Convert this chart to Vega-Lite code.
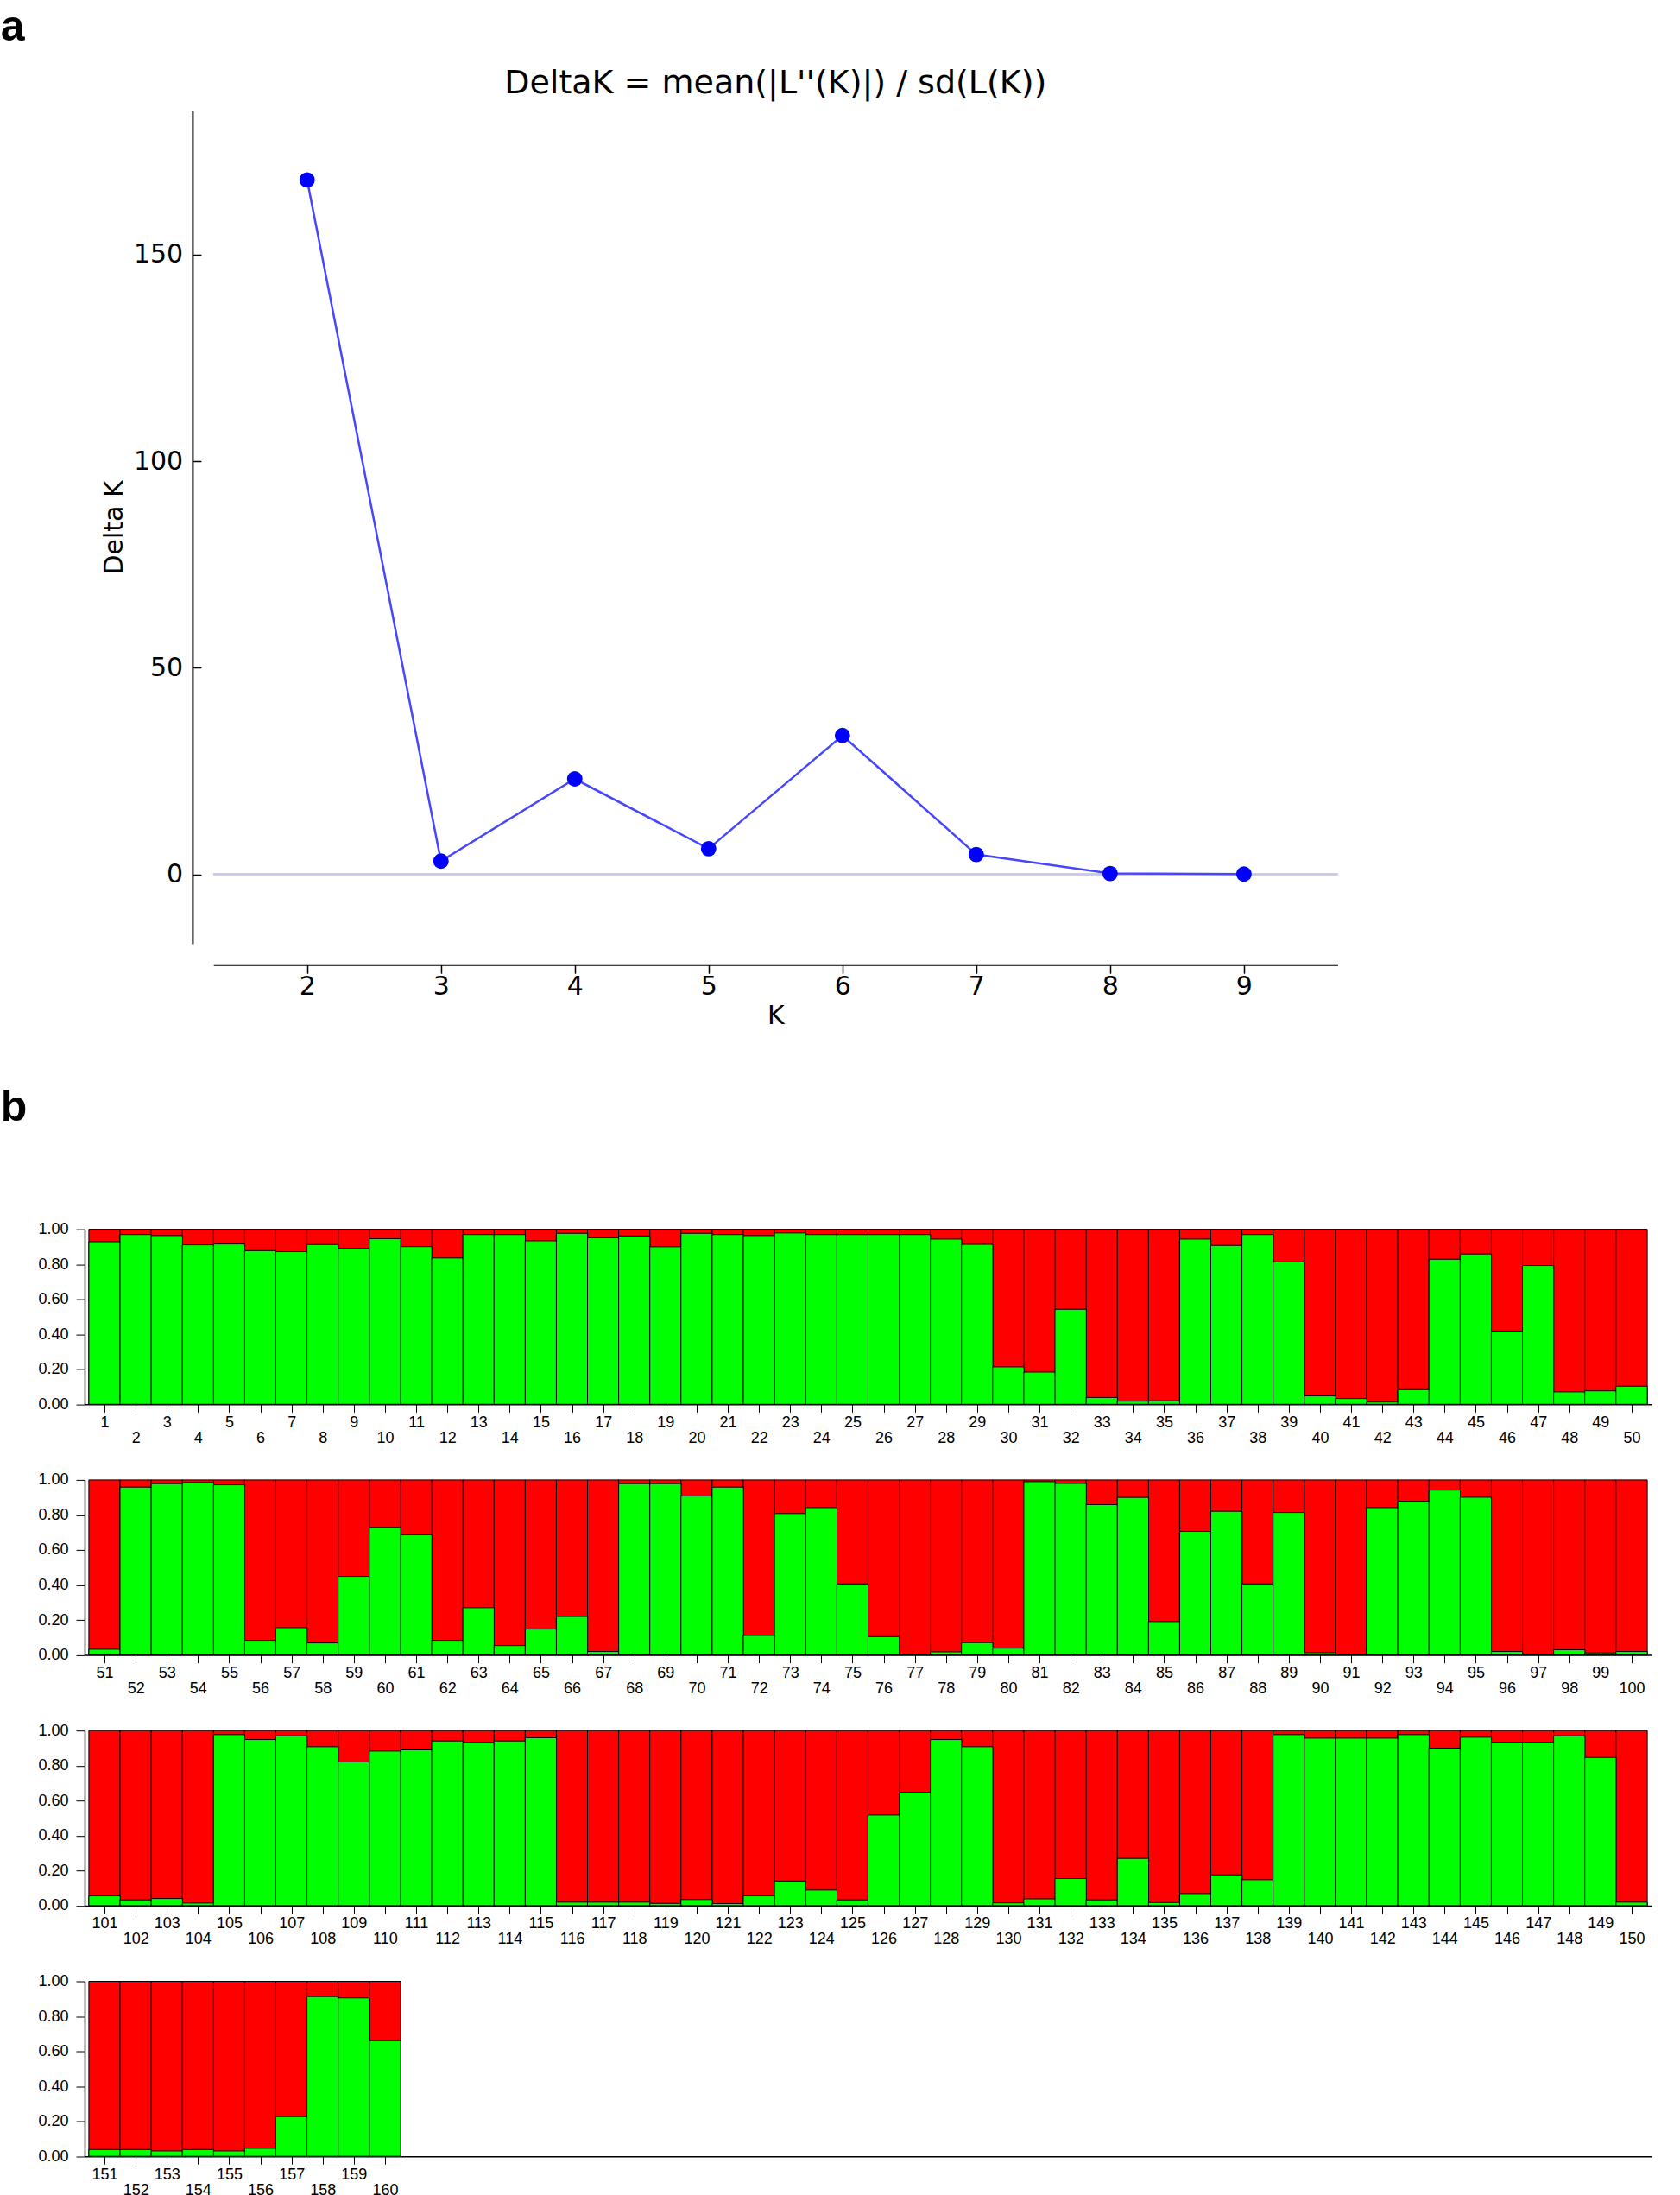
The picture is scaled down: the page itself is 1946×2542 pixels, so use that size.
{
  "$schema": "https://vega.github.io/schema/vega-lite/v6.json",
  "background": "white",
  "autosize": {"type": "pad"},
  "padding": {"left": 0, "top": 6, "right": 20, "bottom": 0},
  "title": {"text": "a", "anchor": "start", "frame": "bounds", "font": "Liberation Sans", "fontSize": 50, "fontWeight": "bold", "color": "#000", "offset": 21.6},
  "datasets": {
    "deltak": [
      {"K": 2, "deltaK": 168.1}, {"K": 3, "deltaK": 3.2}, {"K": 4, "deltaK": 23.1}, {"K": 5, "deltaK": 6.2},
      {"K": 6, "deltaK": 33.6}, {"K": 7, "deltaK": 4.8}, {"K": 8, "deltaK": 0.2}, {"K": 9, "deltaK": 0.05}
    ],
    "q": [
      {"id": 1, "g": 0.929}, {"id": 2, "g": 0.970}, {"id": 3, "g": 0.964}, {"id": 4, "g": 0.911}, {"id": 5, "g": 0.916},
      {"id": 6, "g": 0.878}, {"id": 7, "g": 0.872}, {"id": 8, "g": 0.913}, {"id": 9, "g": 0.891}, {"id": 10, "g": 0.946},
      {"id": 11, "g": 0.901}, {"id": 12, "g": 0.836}, {"id": 13, "g": 0.970}, {"id": 14, "g": 0.970}, {"id": 15, "g": 0.934},
      {"id": 16, "g": 0.977}, {"id": 17, "g": 0.951}, {"id": 18, "g": 0.962}, {"id": 19, "g": 0.900}, {"id": 20, "g": 0.977},
      {"id": 21, "g": 0.970}, {"id": 22, "g": 0.964}, {"id": 23, "g": 0.979}, {"id": 24, "g": 0.970}, {"id": 25, "g": 0.970},
      {"id": 26, "g": 0.970}, {"id": 27, "g": 0.970}, {"id": 28, "g": 0.944}, {"id": 29, "g": 0.914}, {"id": 30, "g": 0.214},
      {"id": 31, "g": 0.184}, {"id": 32, "g": 0.543}, {"id": 33, "g": 0.039}, {"id": 34, "g": 0.018}, {"id": 35, "g": 0.020},
      {"id": 36, "g": 0.944}, {"id": 37, "g": 0.908}, {"id": 38, "g": 0.970}, {"id": 39, "g": 0.814}, {"id": 40, "g": 0.048},
      {"id": 41, "g": 0.033}, {"id": 42, "g": 0.013}, {"id": 43, "g": 0.084}, {"id": 44, "g": 0.829}, {"id": 45, "g": 0.859},
      {"id": 46, "g": 0.419}, {"id": 47, "g": 0.793}, {"id": 48, "g": 0.071}, {"id": 49, "g": 0.077}, {"id": 50, "g": 0.104},
      {"id": 51, "g": 0.033}, {"id": 52, "g": 0.959}, {"id": 53, "g": 0.979}, {"id": 54, "g": 0.985}, {"id": 55, "g": 0.972},
      {"id": 56, "g": 0.084}, {"id": 57, "g": 0.156}, {"id": 58, "g": 0.069}, {"id": 59, "g": 0.449}, {"id": 60, "g": 0.729},
      {"id": 61, "g": 0.686}, {"id": 62, "g": 0.084}, {"id": 63, "g": 0.270}, {"id": 64, "g": 0.054}, {"id": 65, "g": 0.148},
      {"id": 66, "g": 0.220}, {"id": 67, "g": 0.020}, {"id": 68, "g": 0.979}, {"id": 69, "g": 0.979}, {"id": 70, "g": 0.908},
      {"id": 71, "g": 0.959}, {"id": 72, "g": 0.112}, {"id": 73, "g": 0.808}, {"id": 74, "g": 0.842}, {"id": 75, "g": 0.406},
      {"id": 76, "g": 0.105}, {"id": 77, "g": 0.005}, {"id": 78, "g": 0.018}, {"id": 79, "g": 0.071}, {"id": 80, "g": 0.039},
      {"id": 81, "g": 0.990}, {"id": 82, "g": 0.980}, {"id": 83, "g": 0.859}, {"id": 84, "g": 0.900}, {"id": 85, "g": 0.191},
      {"id": 86, "g": 0.706}, {"id": 87, "g": 0.821}, {"id": 88, "g": 0.406}, {"id": 89, "g": 0.814}, {"id": 90, "g": 0.013},
      {"id": 91, "g": 0.005}, {"id": 92, "g": 0.842}, {"id": 93, "g": 0.878}, {"id": 94, "g": 0.942}, {"id": 95, "g": 0.901},
      {"id": 96, "g": 0.020}, {"id": 97, "g": 0.005}, {"id": 98, "g": 0.030}, {"id": 99, "g": 0.012}, {"id": 100, "g": 0.020},
      {"id": 101, "g": 0.056}, {"id": 102, "g": 0.033}, {"id": 103, "g": 0.041}, {"id": 104, "g": 0.015}, {"id": 105, "g": 0.977},
      {"id": 106, "g": 0.949}, {"id": 107, "g": 0.970}, {"id": 108, "g": 0.908}, {"id": 109, "g": 0.821}, {"id": 110, "g": 0.883},
      {"id": 111, "g": 0.890}, {"id": 112, "g": 0.941}, {"id": 113, "g": 0.933}, {"id": 114, "g": 0.941}, {"id": 115, "g": 0.959},
      {"id": 116, "g": 0.020}, {"id": 117, "g": 0.020}, {"id": 118, "g": 0.020}, {"id": 119, "g": 0.013}, {"id": 120, "g": 0.035},
      {"id": 121, "g": 0.012}, {"id": 122, "g": 0.056}, {"id": 123, "g": 0.141}, {"id": 124, "g": 0.089}, {"id": 125, "g": 0.033},
      {"id": 126, "g": 0.518}, {"id": 127, "g": 0.648}, {"id": 128, "g": 0.949}, {"id": 129, "g": 0.908}, {"id": 130, "g": 0.016},
      {"id": 131, "g": 0.039}, {"id": 132, "g": 0.155}, {"id": 133, "g": 0.033}, {"id": 134, "g": 0.270}, {"id": 135, "g": 0.018},
      {"id": 136, "g": 0.069}, {"id": 137, "g": 0.176}, {"id": 138, "g": 0.148}, {"id": 139, "g": 0.977}, {"id": 140, "g": 0.957},
      {"id": 141, "g": 0.957}, {"id": 142, "g": 0.957}, {"id": 143, "g": 0.977}, {"id": 144, "g": 0.900}, {"id": 145, "g": 0.962},
      {"id": 146, "g": 0.934}, {"id": 147, "g": 0.934}, {"id": 148, "g": 0.970}, {"id": 149, "g": 0.847}, {"id": 150, "g": 0.020},
      {"id": 151, "g": 0.039}, {"id": 152, "g": 0.039}, {"id": 153, "g": 0.031}, {"id": 154, "g": 0.039}, {"id": 155, "g": 0.031},
      {"id": 156, "g": 0.046}, {"id": 157, "g": 0.227}, {"id": 158, "g": 0.913}, {"id": 159, "g": 0.905}, {"id": 160, "g": 0.661}
    ]
  },
  "spacing": 65.6,
  "vconcat": [
    {
      "width": 1600.6,
      "height": 964.9,
      "data": {"name": "deltak"},
      "title": {"text": "DeltaK = mean(|L''(K)|) / sd(L(K))", "font": "DejaVu Sans", "fontSize": 38, "fontWeight": "normal", "anchor": "middle", "offset": 11.7, "color": "#000"},
      "layer": [
        {
          "mark": {"type": "rule", "color": "#c8c8ee", "strokeWidth": 1.5},
          "encoding": {
            "x": {"datum": 1.3, "type": "quantitative"},
            "x2": {"datum": 9.7},
            "y": {"datum": 0, "type": "quantitative"}
          }
        },
        {
          "mark": {"type": "line", "color": "#4646ff", "strokeWidth": 2.5},
          "encoding": {
            "x": {
              "field": "K", "type": "quantitative",
              "scale": {"domain": [1.3, 9.7], "range": [149.2, 1451.4], "nice": false, "zero": false},
              "axis": {"values": [2, 3, 4, 5, 6, 7, 8, 9], "format": "d", "title": "K", "offset": 24.3, "tickSize": 10, "tickWidth": 1.5, "tickColor": "#000", "domainWidth": 2, "domainColor": "#000", "labelFont": "DejaVu Sans", "labelFontSize": 30, "labelColor": "#000", "labelPadding": 0, "labelFlush": false, "titleFont": "DejaVu Sans", "titleFontSize": 30, "titleFontWeight": "normal", "titleColor": "#000", "titlePadding": 4, "grid": false}
            },
            "y": {
              "field": "deltaK", "type": "quantitative",
              "scale": {"domain": [-16.8, 184.9], "nice": false, "zero": false},
              "axis": {"values": [0, 50, 100, 150], "format": "d", "title": "Delta K", "offset": -124.9, "tickSize": -10, "tickWidth": 1.5, "tickColor": "#000", "domainWidth": 2, "domainColor": "#000", "labelFont": "DejaVu Sans", "labelFontSize": 30, "labelColor": "#000", "labelPadding": 21.2, "labelFlush": false, "titleFont": "DejaVu Sans", "titleFontSize": 30, "titleFontWeight": "normal", "titleColor": "#000", "titlePadding": 6.5, "grid": false}
            }
          }
        },
        {
          "mark": {"type": "point", "filled": true, "color": "#0000ff", "opacity": 1, "size": 320},
          "encoding": {
            "x": {"field": "K", "type": "quantitative"},
            "y": {"field": "deltaK", "type": "quantitative"}
          }
        }
      ]
    },
    {
      "title": {"text": "b", "anchor": "start", "frame": "bounds", "font": "Liberation Sans", "fontSize": 50, "fontWeight": "bold", "color": "#000", "offset": 106.5, "dx": -43.3},
      "spacing": 30.3,
      "vconcat": [
        {
          "width": 1815, "height": 202.7,
          "data": {"name": "q"},
          "transform": [{"filter": "datum.id <= 50"}],
          "resolve": {"axis": {"x": "independent"}},
          "layer": [
            {
              "mark": {"type": "bar", "color": "#ff0000", "stroke": "#000", "strokeWidth": 1, "width": 36.3},
              "encoding": {
                "x": {"field": "id", "type": "quantitative", "scale": {"domain": [0.5, 50.5], "nice": false, "zero": false},
                  "axis": {"orient": "bottom", "values": [1,2,3,4,5,6,7,8,9,10,11,12,13,14,15,16,17,18,19,20,21,22,23,24,25,26,27,28,29,30,31,32,33,34,35,36,37,38,39,40,41,42,43,44,45,46,47,48,49,50], "labelExpr": "datum.value % 2 === 1 ? datum.label : ''", "title": null, "tickSize": 9, "tickColor": "#000", "domainColor": "#000", "domainWidth": 1.5, "labelFont": "Liberation Sans", "labelFontSize": 18, "labelColor": "#000", "labelPadding": 3, "labelFlush": false, "labelOverlap": false, "grid": false}},
                "y": {"datum": 1, "type": "quantitative", "scale": {"domain": [0, 1], "nice": false},
                  "axis": {"values": [0, 0.2, 0.4, 0.6, 0.8, 1], "format": ".2f", "title": null, "tickSize": 10, "tickColor": "#000", "domainColor": "#000", "domainWidth": 1.5, "labelFont": "Liberation Sans", "labelFontSize": 18, "labelColor": "#000", "labelPadding": 9, "grid": false}}
              }
            },
            {
              "mark": {"type": "bar", "color": "#00ff00", "stroke": "#000", "strokeWidth": 1, "width": 36.3},
              "encoding": {
                "x": {"field": "id", "type": "quantitative",
                  "axis": {"orient": "bottom", "values": [2,4,6,8,10,12,14,16,18,20,22,24,26,28,30,32,34,36,38,40,42,44,46,48,50], "title": null, "ticks": false, "tickSize": 0, "domain": false, "labelFont": "Liberation Sans", "labelFontSize": 18, "labelColor": "#000", "labelPadding": 30, "labelFlush": false, "labelOverlap": false, "grid": false}},
                "y": {"field": "g", "type": "quantitative",
                  "axis": {"values": [0, 0.2, 0.4, 0.6, 0.8, 1], "format": ".2f", "title": null, "tickSize": 10, "tickColor": "#000", "domainColor": "#000", "domainWidth": 1.5, "labelFont": "Liberation Sans", "labelFontSize": 18, "labelColor": "#000", "labelPadding": 9, "grid": false}}
              }
            }
          ]
        },
        {
          "width": 1815, "height": 202.7,
          "data": {"name": "q"},
          "transform": [{"filter": "datum.id > 50 && datum.id <= 100"}],
          "resolve": {"axis": {"x": "independent"}},
          "layer": [
            {
              "mark": {"type": "bar", "color": "#ff0000", "stroke": "#000", "strokeWidth": 1, "width": 36.3},
              "encoding": {
                "x": {"field": "id", "type": "quantitative", "scale": {"domain": [50.5, 100.5], "nice": false, "zero": false},
                  "axis": {"orient": "bottom", "values": [51,52,53,54,55,56,57,58,59,60,61,62,63,64,65,66,67,68,69,70,71,72,73,74,75,76,77,78,79,80,81,82,83,84,85,86,87,88,89,90,91,92,93,94,95,96,97,98,99,100], "labelExpr": "datum.value % 2 === 1 ? datum.label : ''", "title": null, "tickSize": 9, "tickColor": "#000", "domainColor": "#000", "domainWidth": 1.5, "labelFont": "Liberation Sans", "labelFontSize": 18, "labelColor": "#000", "labelPadding": 3, "labelFlush": false, "labelOverlap": false, "grid": false}},
                "y": {"datum": 1, "type": "quantitative", "scale": {"domain": [0, 1], "nice": false},
                  "axis": {"values": [0, 0.2, 0.4, 0.6, 0.8, 1], "format": ".2f", "title": null, "tickSize": 10, "tickColor": "#000", "domainColor": "#000", "domainWidth": 1.5, "labelFont": "Liberation Sans", "labelFontSize": 18, "labelColor": "#000", "labelPadding": 9, "grid": false}}
              }
            },
            {
              "mark": {"type": "bar", "color": "#00ff00", "stroke": "#000", "strokeWidth": 1, "width": 36.3},
              "encoding": {
                "x": {"field": "id", "type": "quantitative",
                  "axis": {"orient": "bottom", "values": [52,54,56,58,60,62,64,66,68,70,72,74,76,78,80,82,84,86,88,90,92,94,96,98,100], "title": null, "ticks": false, "tickSize": 0, "domain": false, "labelFont": "Liberation Sans", "labelFontSize": 18, "labelColor": "#000", "labelPadding": 30, "labelFlush": false, "labelOverlap": false, "grid": false}},
                "y": {"field": "g", "type": "quantitative",
                  "axis": {"values": [0, 0.2, 0.4, 0.6, 0.8, 1], "format": ".2f", "title": null, "tickSize": 10, "tickColor": "#000", "domainColor": "#000", "domainWidth": 1.5, "labelFont": "Liberation Sans", "labelFontSize": 18, "labelColor": "#000", "labelPadding": 9, "grid": false}}
              }
            }
          ]
        },
        {
          "width": 1815, "height": 202.7,
          "data": {"name": "q"},
          "transform": [{"filter": "datum.id > 100 && datum.id <= 150"}],
          "resolve": {"axis": {"x": "independent"}},
          "layer": [
            {
              "mark": {"type": "bar", "color": "#ff0000", "stroke": "#000", "strokeWidth": 1, "width": 36.3},
              "encoding": {
                "x": {"field": "id", "type": "quantitative", "scale": {"domain": [100.5, 150.5], "nice": false, "zero": false},
                  "axis": {"orient": "bottom", "values": [101,102,103,104,105,106,107,108,109,110,111,112,113,114,115,116,117,118,119,120,121,122,123,124,125,126,127,128,129,130,131,132,133,134,135,136,137,138,139,140,141,142,143,144,145,146,147,148,149,150], "labelExpr": "datum.value % 2 === 1 ? datum.label : ''", "title": null, "tickSize": 9, "tickColor": "#000", "domainColor": "#000", "domainWidth": 1.5, "labelFont": "Liberation Sans", "labelFontSize": 18, "labelColor": "#000", "labelPadding": 3, "labelFlush": false, "labelOverlap": false, "grid": false}},
                "y": {"datum": 1, "type": "quantitative", "scale": {"domain": [0, 1], "nice": false},
                  "axis": {"values": [0, 0.2, 0.4, 0.6, 0.8, 1], "format": ".2f", "title": null, "tickSize": 10, "tickColor": "#000", "domainColor": "#000", "domainWidth": 1.5, "labelFont": "Liberation Sans", "labelFontSize": 18, "labelColor": "#000", "labelPadding": 9, "grid": false}}
              }
            },
            {
              "mark": {"type": "bar", "color": "#00ff00", "stroke": "#000", "strokeWidth": 1, "width": 36.3},
              "encoding": {
                "x": {"field": "id", "type": "quantitative",
                  "axis": {"orient": "bottom", "values": [102,104,106,108,110,112,114,116,118,120,122,124,126,128,130,132,134,136,138,140,142,144,146,148,150], "title": null, "ticks": false, "tickSize": 0, "domain": false, "labelFont": "Liberation Sans", "labelFontSize": 18, "labelColor": "#000", "labelPadding": 30, "labelFlush": false, "labelOverlap": false, "grid": false}},
                "y": {"field": "g", "type": "quantitative",
                  "axis": {"values": [0, 0.2, 0.4, 0.6, 0.8, 1], "format": ".2f", "title": null, "tickSize": 10, "tickColor": "#000", "domainColor": "#000", "domainWidth": 1.5, "labelFont": "Liberation Sans", "labelFontSize": 18, "labelColor": "#000", "labelPadding": 9, "grid": false}}
              }
            }
          ]
        },
        {
          "width": 1815, "height": 202.7,
          "data": {"name": "q"},
          "transform": [{"filter": "datum.id > 150"}],
          "resolve": {"axis": {"x": "independent"}},
          "layer": [
            {
              "mark": {"type": "bar", "color": "#ff0000", "stroke": "#000", "strokeWidth": 1, "width": 36.3},
              "encoding": {
                "x": {"field": "id", "type": "quantitative", "scale": {"domain": [150.5, 200.5], "nice": false, "zero": false},
                  "axis": {"orient": "bottom", "values": [151,152,153,154,155,156,157,158,159,160], "labelExpr": "datum.value % 2 === 1 ? datum.label : ''", "title": null, "tickSize": 9, "tickColor": "#000", "domainColor": "#000", "domainWidth": 1.5, "labelFont": "Liberation Sans", "labelFontSize": 18, "labelColor": "#000", "labelPadding": 3, "labelFlush": false, "labelOverlap": false, "grid": false}},
                "y": {"datum": 1, "type": "quantitative", "scale": {"domain": [0, 1], "nice": false},
                  "axis": {"values": [0, 0.2, 0.4, 0.6, 0.8, 1], "format": ".2f", "title": null, "tickSize": 10, "tickColor": "#000", "domainColor": "#000", "domainWidth": 1.5, "labelFont": "Liberation Sans", "labelFontSize": 18, "labelColor": "#000", "labelPadding": 9, "grid": false}}
              }
            },
            {
              "mark": {"type": "bar", "color": "#00ff00", "stroke": "#000", "strokeWidth": 1, "width": 36.3},
              "encoding": {
                "x": {"field": "id", "type": "quantitative",
                  "axis": {"orient": "bottom", "values": [152,154,156,158,160], "title": null, "ticks": false, "tickSize": 0, "domain": false, "labelFont": "Liberation Sans", "labelFontSize": 18, "labelColor": "#000", "labelPadding": 30, "labelFlush": false, "labelOverlap": false, "grid": false}},
                "y": {"field": "g", "type": "quantitative",
                  "axis": {"values": [0, 0.2, 0.4, 0.6, 0.8, 1], "format": ".2f", "title": null, "tickSize": 10, "tickColor": "#000", "domainColor": "#000", "domainWidth": 1.5, "labelFont": "Liberation Sans", "labelFontSize": 18, "labelColor": "#000", "labelPadding": 9, "grid": false}}
              }
            }
          ]
        }
      ]
    }
  ],
  "config": {
    "view": {"stroke": null},
    "axis": {"grid": false}
  }
}
